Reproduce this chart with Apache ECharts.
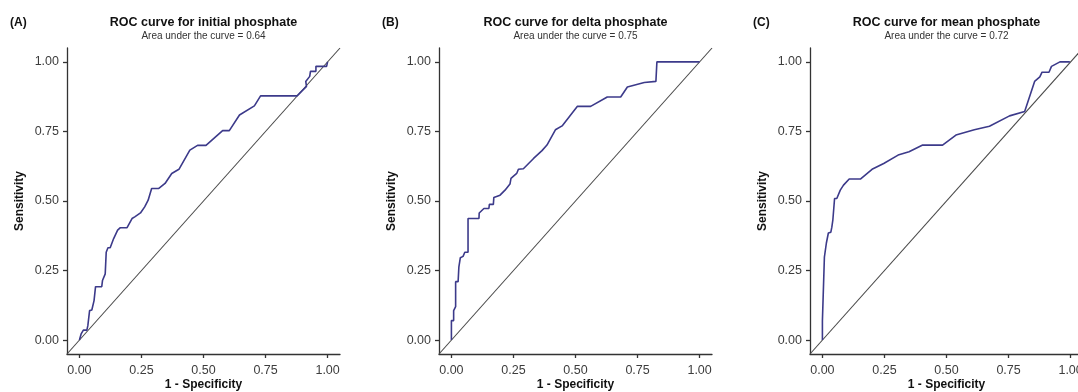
<!DOCTYPE html>
<html>
<head>
<meta charset="utf-8">
<script src="https://cdn.jsdelivr.net/npm/echarts@6/dist/echarts.min.js"></script>
<style>
  html, body { margin: 0; padding: 0; background: #ffffff; }
  #chart { width: 1078px; height: 392px; }
</style>
</head>
<body>
<div id="chart"></div>
<script>
// ---- Data ----
const panelLetters = ['(A)', '(B)', '(C)'];
const panelTitles = ['ROC curve for initial phosphate', 'ROC curve for delta phosphate', 'ROC curve for mean phosphate'];
const aucTexts = ['Area under the curve = 0.64', 'Area under the curve = 0.75', 'Area under the curve = 0.72'];
const tickValues = [0, 0.25, 0.5, 0.75, 1];
const axisRange = [-0.05, 1.05];
const diagonal = [-0.05, 1.05];

// (A) initial phosphate: 1 - specificity, sensitivity
const initialFpr = [0, 0.007, 0.016, 0.030, 0.034, 0.041, 0.041, 0.050, 0.059, 0.065, 0.065, 0.090, 0.093, 0.104, 0.108, 0.108, 0.115, 0.115, 0.124, 0.138, 0.154, 0.165, 0.192, 0.212, 0.223, 0.246, 0.263, 0.277, 0.291, 0.320, 0.345, 0.372, 0.401, 0.445, 0.476, 0.510, 0.577, 0.604, 0.645, 0.705, 0.730, 0.877, 0.915, 0.912, 0.928, 0.931, 0.953, 0.953, 0.996, 1.0];
const initialTpr = [0, 0.022, 0.036, 0.036, 0.052, 0.052, 0.106, 0.108, 0.142, 0.148, 0.192, 0.192, 0.214, 0.238, 0.240, 0.316, 0.319, 0.332, 0.332, 0.365, 0.395, 0.404, 0.404, 0.437, 0.443, 0.457, 0.479, 0.503, 0.545, 0.545, 0.563, 0.599, 0.614, 0.683, 0.700, 0.700, 0.753, 0.753, 0.809, 0.842, 0.878, 0.878, 0.912, 0.930, 0.948, 0.966, 0.966, 0.984, 0.984, 1.0];

// (B) delta phosphate
const deltaFpr = [0, 0, 0.009, 0.009, 0.017, 0.017, 0.027, 0.030, 0.036, 0.047, 0.054, 0.067, 0.067, 0.111, 0.112, 0.131, 0.151, 0.153, 0.169, 0.171, 0.196, 0.216, 0.236, 0.240, 0.263, 0.270, 0.290, 0.331, 0.365, 0.385, 0.419, 0.446, 0.507, 0.561, 0.628, 0.682, 0.709, 0.777, 0.824, 0.828, 1.0];
const deltaTpr = [0, 0.070, 0.070, 0.106, 0.120, 0.210, 0.210, 0.262, 0.296, 0.301, 0.316, 0.316, 0.437, 0.437, 0.457, 0.473, 0.473, 0.488, 0.488, 0.513, 0.521, 0.539, 0.561, 0.581, 0.599, 0.614, 0.616, 0.653, 0.681, 0.701, 0.756, 0.770, 0.840, 0.840, 0.874, 0.874, 0.910, 0.926, 0.930, 1.0, 1.0];

// (C) mean phosphate
const meanFpr = [0, 0, 0.008, 0.008, 0.016, 0.016, 0.024, 0.024, 0.034, 0.038, 0.042, 0.047, 0.049, 0.058, 0.072, 0.085, 0.108, 0.153, 0.200, 0.247, 0.305, 0.349, 0.404, 0.484, 0.538, 0.612, 0.673, 0.754, 0.815, 0.855, 0.876, 0.885, 0.913, 0.923, 0.957, 0.997];
const meanTpr = [0, 0.070, 0.070, 0.298, 0.298, 0.349, 0.349, 0.385, 0.388, 0.406, 0.431, 0.433, 0.509, 0.509, 0.539, 0.557, 0.579, 0.579, 0.614, 0.635, 0.665, 0.677, 0.701, 0.701, 0.737, 0.756, 0.769, 0.806, 0.822, 0.930, 0.946, 0.963, 0.963, 0.984, 1.0, 1.0];

const curvesFpr = [initialFpr, deltaFpr, meanFpr];
const curvesTpr = [initialTpr, deltaTpr, meanTpr];

// ---- Layout ----
const gridLefts = [67, 439, 810];
const gridWidth = 273;
const gridTop = 48;
const gridBottom = 38;
const W = 1078;

const axisColor = '#333333';
const labelColor = '#3d3d3d';
const curveColor = '#3c3a8a';
const diagColor = '#4a4a4a';
const FONT = 'Liberation Sans, Arial, sans-serif';

const grids = [], xAxes = [], yAxes = [], series = [], titles = [];

for (let i = 0; i < 3; i++) {
  grids.push({ left: gridLefts[i], right: W - gridLefts[i] - gridWidth, top: gridTop, bottom: gridBottom,
    containLabel: false, outerBoundsMode: 'none' });
  const center = gridLefts[i] + gridWidth / 2;
  const common = {
    type: 'value', gridIndex: i, min: axisRange[0], max: axisRange[1],
    nameLocation: 'middle', nameMoveOverlap: false,
    nameTextStyle: { fontFamily: FONT, fontWeight: 'bold', fontSize: 12, color: '#111' },
    axisLine: { show: true, onZero: false, lineStyle: { color: axisColor, width: 1.3 } },
    axisTick: { show: true, length: 4, customValues: tickValues, lineStyle: { color: axisColor, width: 1.3 } },
    axisLabel: { customValues: tickValues, fontFamily: FONT, fontSize: 12.5, color: labelColor, margin: 8, formatter: v => v.toFixed(2) },
    splitLine: { show: false }
  };
  xAxes.push(Object.assign({}, common, {
    name: '1 - Specificity', nameGap: 25,
    axisLabel: Object.assign({}, common.axisLabel, { margin: 10 })
  }));
  yAxes.push(Object.assign({}, common, { name: 'Sensitivity', nameGap: 41 }));

  series.push({
    type: 'line', xAxisIndex: i, yAxisIndex: i, symbol: 'none', silent: true,
    data: diagonal.map(v => [v, v]),
    lineStyle: { color: diagColor, width: 1.1 }, z: 2
  });
  series.push({
    type: 'line', xAxisIndex: i, yAxisIndex: i, symbol: 'none', silent: true,
    data: curvesFpr[i].map((x, k) => [x, curvesTpr[i][k]]),
    lineStyle: { color: curveColor, width: 1.6 }, z: 3
  });

  titles.push({ text: panelLetters[i], left: gridLefts[i] - 57, top: 17, padding: 0,
    textStyle: { fontFamily: FONT, fontWeight: 'bold', fontSize: 12, color: '#111' } });
  titles.push({ text: panelTitles[i], left: center, textAlign: 'center', top: 16.5, padding: 0,
    textStyle: { fontFamily: FONT, fontWeight: 'bold', fontSize: 12.5, color: '#111' } });
  titles.push({ text: aucTexts[i], left: center, textAlign: 'center', top: 31, padding: 0,
    textStyle: { fontFamily: FONT, fontWeight: 'normal', fontSize: 10, color: '#333' } });
}

const chart = echarts.init(document.getElementById('chart'), null, { renderer: 'canvas' });
chart.setOption({
  backgroundColor: '#ffffff',
  animation: false,
  title: titles,
  grid: grids,
  xAxis: xAxes,
  yAxis: yAxes,
  series: series
});
</script>
</body>
</html>
